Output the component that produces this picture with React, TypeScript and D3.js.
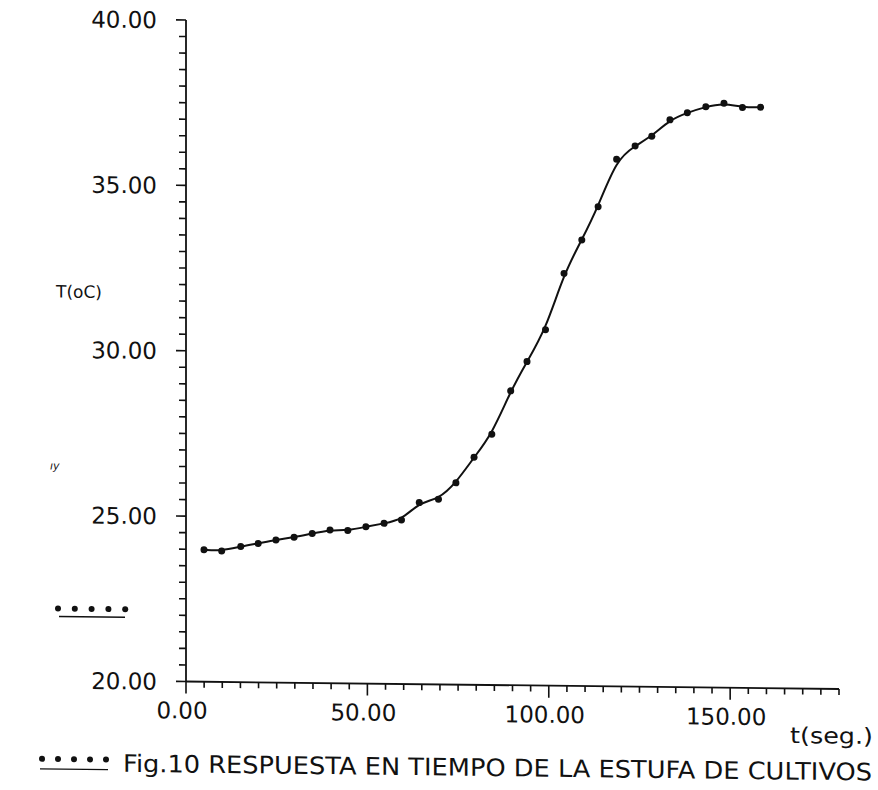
import React from 'react';
import * as d3 from 'd3';

// Measured samples (time in seconds, temperature in °C)
const timeS: number[] = [
  4.96, 9.84, 15.1, 19.9, 24.8, 29.8, 34.8, 39.7, 44.6, 49.6, 54.6, 59.4, 64.3, 69.6, 74.4, 79.4,
  84.3, 89.5, 94.0, 99.1, 104.2, 109.1, 113.6, 118.7, 123.8, 128.4, 133.4, 138.2, 143.3, 148.3, 153.4, 158.4,
];
const tempC: number[] = [
  23.99, 23.96, 24.10, 24.20, 24.31, 24.40, 24.52, 24.63, 24.62, 24.74, 24.85, 24.96, 25.49, 25.60, 26.10, 26.88,
  27.58, 28.90, 29.79, 30.76, 32.47, 33.49, 34.50, 35.94, 36.35, 36.65, 37.15, 37.37, 37.56, 37.67, 37.55, 37.56,
];

const xMajorTicks: number[] = [0, 50, 100, 150];
const xTickLabels: string[] = ['0.00', '50.00', '100.00', '150.00'];
const yMajorTicks: number[] = [20, 25, 30, 35, 40];
const yTickLabels: string[] = ['20.00', '25.00', '30.00', '35.00', '40.00'];
const yAxisLabel = 'T(oC)';
const xAxisLabel = 't(seg.)';
const caption = 'Fig.10 RESPUESTA EN TIEMPO DE LA ESTUFA DE CULTIVOS';
const strayMark = 'ıy';
const legendSymbols: number[] = [0, 1, 2, 3, 4];

const FONT = '"DejaVu Sans", sans-serif';

export default function App() {
  const x = d3.scaleLinear().domain([0, 180]).range([186, 839]);
  const y = d3.scaleLinear().domain([20, 40]).range([681.5, 20]);
  const xMinor = d3.range(0, 180.01, 5);
  const yMinor = d3.range(20, 40.01, 0.5);

  const pts = timeS.map((t, i) => [t, tempC[i]] as [number, number]);
  const line = d3
    .line<[number, number]>()
    .x((d) => x(d[0]))
    .y((d) => y(d[1]))
    .curve(d3.curveBasis);

  const x0 = x(0);
  const y0 = y(20);
  const skew = `translate(${x0},${y0}) skewY(0.66) translate(${-x0},${-y0})`;

  return (
    <svg
      width={878}
      height={790}
      style={{ position: 'absolute', left: 0, top: 0, background: '#fff' }}
    >
      <rect width={878} height={790} fill="#fff" />
      <g transform={skew} fontFamily={FONT} fill="#111">
        {/* Y axis */}
        <line x1={x0} x2={x0} y1={y(40)} y2={y0} stroke="#111" strokeWidth={1.8} />
        {yMinor.map((v) => {
          const major = Math.abs(v % 5) < 1e-6;
          return (
            <line
              key={'ym' + v}
              x1={x0}
              x2={x0 - (major ? 10 : 7)}
              y1={y(v)}
              y2={y(v)}
              stroke="#111"
              strokeWidth={1.6}
            />
          );
        })}
        {yMajorTicks.map((v, i) => (
          <text key={'yl' + v} x={157} y={y(v) + 8.5} fontSize={23} textAnchor="end">
            {yTickLabels[i]}
          </text>
        ))}
        <text x={102} y={299} fontSize={17} textAnchor="end">
          {yAxisLabel}
        </text>
        <text x={50} y={471} fontSize={11} fontStyle="italic">
          {strayMark}
        </text>

        {/* X axis */}
        <line x1={x0} x2={x(180)} y1={y0} y2={y0} stroke="#111" strokeWidth={1.8} />
        {xMinor.map((v) => {
          const major = Math.abs(v % 50) < 1e-6;
          return (
            <line
              key={'xm' + v}
              x1={x(v)}
              x2={x(v)}
              y1={y0}
              y2={y0 + (major ? 12 : 6)}
              stroke="#111"
              strokeWidth={1.6}
            />
          );
        })}
        {xMajorTicks.map((v, i) => (
          <text key={'xl' + v} x={x(v) - 4} y={718.5} fontSize={23} textAnchor="middle">
            {xTickLabels[i]}
          </text>
        ))}
        <text x={873} y={736} fontSize={22} textAnchor="end" textLength={83} lengthAdjust="spacingAndGlyphs">
          {xAxisLabel}
        </text>

        {/* Curve and points */}
        <path d={line(pts) || ''} fill="none" stroke="#111" strokeWidth={2} />
        {pts.map((d, i) => (
          <circle key={'p' + i} cx={x(d[0])} cy={y(d[1])} r={3.5} fill="#111" />
        ))}

        {/* Legend marks */}
        {legendSymbols.map((k) => (
          <circle key={'l1' + k} cx={58 + k * 16.8} cy={610} r={3} fill="#111" />
        ))}
        <line x1={59} x2={125} y1={618} y2={618} stroke="#111" strokeWidth={1.4} />

        {legendSymbols.map((k) => (
          <circle key={'l2' + k} cx={42 + k * 16} cy={760.5} r={3} fill="#111" />
        ))}
        <line x1={40} x2={108} y1={770.5} y2={770.5} stroke="#111" strokeWidth={1.3} />

        <text x={123} y={772.5} fontSize={24} textLength={749} lengthAdjust="spacingAndGlyphs">
          {caption}
        </text>
      </g>
    </svg>
  );
}
